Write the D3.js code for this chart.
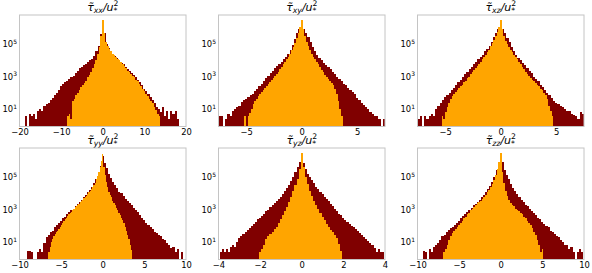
<!DOCTYPE html>
<html><head><meta charset="utf-8">
<script src="https://cdn.jsdelivr.net/npm/d3@7"></script>
<style>body{margin:0;background:#fff}svg{display:block}</style>
</head><body>
<script>
// ---------- data (log10 of bin counts; -1 = empty bin) ----------
const panelKeys = ["xx","xy","xz","yy","yz","zz"];
const xDomains = [[-20,20],[-7.5,7.5],[-7.5,7.5],[-10,10],[-4,4],[-10,10]];
const xTickValues = [[-20,-10,0,10,20],[-5,0,5],[-5,0,5],[-10,-5,0,5,10],[-4,-2,0,2,4],[-10,-5,0,5,10]];
const yTickExponents = [1,3,5];

const darkFirstCenter = [-18.5,-7.4,-7.4,-9,-3.9,-9.25];
const darkBinWidth    = [0.5,0.2,0.2,0.25,0.1,0.25];
const orangeFirstCenter = [-8.4,-5.1,-5.25,-6.45,-2.0,-6.8];
const orangeBinWidth    = [0.4,0.15,0.15,0.15,0.1,0.2];

const darkLog_xx = [0.5,-1,0.6,0.5,0.6,0.3,0.8,0.9,0.8,1.1,1.2,1.3,1.45,1.6,1.75,1.9,2.1,2.3,2.45,2.55,2.65,2.75,2.85,2.95,3.1,3.25,3.4,3.5,3.6,3.7,3.8,3.9,4.0,4.15,4.45,4.75,5.5,
 6.2,
 5.6,4.9,4.65,4.45,4.3,4.15,4.05,3.9,3.75,3.65,3.5,3.35,3.25,3.1,3.0,2.85,2.7,2.55,2.35,2.15,2.0,1.85,1.65,1.45,1.25,1.05,0.9,0.7,1.0,0.5,0.8,0.3,0.8,0.6,0.8,0.3];
const orangeLog_xx = [0.5,0.6,0.3,1.4,1.55,1.75,1.9,2.1,2.25,2.4,2.5,2.65,2.85,3.0,3.2,3.4,3.65,3.9,4.3,4.7,5.4,
 6.35,
 5.6,5.0,4.75,4.6,4.45,4.3,4.2,4.1,4.0,3.9,3.8,3.7,3.55,3.4,3.25,3.15,3.05,2.95,2.85,2.7,2.6,2.45,2.3,2.15,2.0,1.85,1.7,1.55,1.4,1.25,1.05,0.85,0.6,0.45];

const darkLog_xy = [0.45,0.45,-1,0.3,0.6,0.5,0.8,0.9,1.05,1.1,1.35,1.45,1.5,1.65,1.75,1.85,2.0,2.15,2.3,2.45,2.6,2.8,2.95,3.1,3.25,3.4,3.55,3.65,3.8,3.95,4.1,4.3,4.55,4.85,5.2,5.55,5.85,
 6.1,
 5.85,5.6,5.3,5.0,4.7,4.45,4.25,4.05,3.9,3.75,3.6,3.5,3.35,3.2,3.05,2.9,2.75,2.6,2.45,2.35,2.2,2.05,1.95,1.8,1.6,1.45,1.3,1.15,1.0,0.9,0.75,0.6,0.5,0.45,0.3,-1,0.3];
const orangeLog_xy = [0.45,-1,0.5,0.65,0.9,1.2,1.4,1.55,1.7,1.8,1.95,2.05,2.2,2.3,2.45,2.55,2.7,2.8,2.95,3.05,3.2,3.35,3.5,3.65,3.8,3.95,4.1,4.3,4.5,4.7,4.95,5.25,5.6,5.95,
 6.38,
 5.85,5.4,5.05,4.75,4.5,4.3,4.1,3.95,3.8,3.65,3.5,3.3,3.15,3.0,2.9,2.75,2.6,2.5,2.35,2.15,1.85,1.4,0.9,0.45];

const darkLog_xz = [0.3,0.45,-1,0.45,0.3,0.45,0.6,0.5,0.9,1.1,1.3,1.45,1.65,1.75,1.9,2.05,2.2,2.4,2.55,2.7,2.9,3.05,3.2,3.35,3.5,3.65,3.8,3.95,4.1,4.25,4.45,4.6,4.8,5.05,5.3,5.6,5.85,
 6.1,
 5.8,5.55,5.25,5.0,4.7,4.45,4.2,4.05,3.9,3.75,3.6,3.4,3.25,3.1,2.9,2.75,2.6,2.4,2.25,2.1,1.9,1.75,1.6,1.4,1.25,1.2,1.1,1.05,0.9,0.8,0.8,0.6,0.55,0.5,0.3,0.7,0.6];
const orangeLog_xz = [0.45,0.3,0.7,1.0,1.3,1.55,1.7,1.85,1.95,2.05,2.2,2.3,2.4,2.55,2.65,2.8,2.9,3.05,3.15,3.3,3.4,3.55,3.65,3.8,3.95,4.1,4.25,4.4,4.55,4.75,4.95,5.15,5.4,5.65,5.95,
 6.38,
 5.8,5.4,5.1,4.9,4.7,4.55,4.4,4.25,4.1,3.95,3.8,3.65,3.5,3.35,3.2,3.05,2.95,2.8,2.7,2.6,2.5,2.4,2.3,2.15,2.05,1.9,1.75,1.5,1.1,0.8,0.45];

const darkLog_yy = [0.35,0.35,0.3,-1,-1,0.3,0.5,0.3,0.85,1.2,1.35,1.5,1.6,1.8,1.95,2.05,2.2,2.35,2.45,2.6,2.75,2.85,2.95,3.1,3.25,3.35,3.5,3.65,3.8,3.95,4.1,4.3,4.5,4.75,5.1,5.6,
 6.2,
 5.75,5.45,5.1,4.85,4.6,4.4,4.2,4.0,3.9,3.75,3.55,3.45,3.3,3.15,3.0,2.85,2.75,2.55,2.4,2.25,2.1,1.95,1.85,1.7,1.55,1.45,1.35,1.25,1.1,1.0,0.85,0.7,0.55,0.6,0.3,0.45,-1,0.3];
const orangeLog_yy = [0.3,0.6,0.9,1.1,1.25,1.4,1.5,1.6,1.7,1.8,1.95,2.05,2.2,2.3,2.4,2.5,2.6,2.7,2.75,2.85,2.95,3.05,3.1,3.2,3.25,3.35,3.45,3.5,3.6,3.65,3.75,3.85,3.95,4.05,4.15,4.3,4.4,4.55,4.75,4.95,5.2,5.5,5.9,
 6.3,
 5.5,5.0,4.6,4.3,4.0,3.8,3.65,3.45,3.3,3.15,3.0,2.85,2.7,2.55,2.4,2.25,2.05,1.85,1.6,1.35,1.1,0.7,0.4];

const darkLog_yz = [0.3,0.45,0.3,0.45,0.3,0.6,0.7,0.6,0.9,1.15,1.25,1.4,1.55,1.65,1.75,1.9,2.0,2.15,2.3,2.4,2.5,2.65,2.8,2.9,3.05,3.15,3.3,3.4,3.55,3.7,3.85,4.05,4.2,4.4,4.65,4.9,5.2,5.5,5.8,
 6.15,
 5.75,5.4,5.1,4.9,4.7,4.5,4.3,4.15,4.0,3.85,3.7,3.55,3.4,3.25,3.1,2.95,2.8,2.65,2.55,2.4,2.25,2.15,2.0,1.9,1.8,1.7,1.6,1.45,1.35,1.2,1.1,0.95,0.85,0.7,0.55,0.3,0.45,0.3,0.3];
const orangeLog_yz = [0.3,0.5,0.7,1.1,1.3,1.4,1.55,1.7,1.85,2.05,2.3,2.55,2.8,3.05,3.35,3.7,4.05,4.4,4.8,5.4,
 6.4,
 5.5,4.9,4.45,4.05,3.75,3.45,3.15,2.95,2.7,2.45,2.25,2.0,1.85,1.65,1.5,1.35,1.15,0.8,0.35];

const darkLog_zz = [0.35,0.3,-1,0.5,0.3,0.6,0.7,0.85,1.0,1.25,1.35,1.5,1.65,1.75,1.85,1.95,2.1,2.2,2.35,2.5,2.6,2.75,2.85,3.0,3.15,3.25,3.35,3.5,3.65,3.8,3.95,4.15,4.35,4.6,4.9,5.3,5.7,
 6.2,
 5.8,5.35,5.05,4.75,4.45,4.25,4.05,3.85,3.7,3.5,3.35,3.2,3.1,2.95,2.8,2.7,2.55,2.4,2.3,2.15,2.0,1.9,1.8,1.6,1.5,1.4,1.3,1.2,1.05,0.9,0.75,0.7,0.5,0.6,0.3,-1,0.3,0.45,0.3];
const orangeLog_zz = [0.3,0.45,0.7,1.0,1.3,1.45,1.6,1.7,1.85,1.95,2.05,2.2,2.35,2.45,2.6,2.7,2.85,2.95,3.05,3.15,3.3,3.35,3.45,3.55,3.7,3.8,3.95,4.1,4.3,4.45,4.7,5.0,5.4,5.85,
 6.35,
 5.2,4.5,4.05,3.75,3.5,3.3,3.2,3.1,2.95,2.85,2.8,2.7,2.6,2.45,2.35,2.2,2.05,1.95,1.75,1.55,1.35,1.05,0.7,0.3,0.45];

const darkLogs = [darkLog_xx,darkLog_xy,darkLog_xz,darkLog_yy,darkLog_yz,darkLog_zz];
const orangeLogs = [orangeLog_xx,orangeLog_xy,orangeLog_xz,orangeLog_yy,orangeLog_yz,orangeLog_zz];

// ---------- layout ----------
const W = 592, H = 273;
const colLeft = [19.5, 218.5, 417.5], colW = 166.5;
const rowTop = [15, 148], rowH = 111.5;
const yDomain = [Math.pow(10,-0.17), Math.pow(10,6.68)];
const FONT = "DejaVu Sans";

const svg = d3.select("body").append("svg").attr("width", W).attr("height", H);

function bins(first, width, logs){
  return logs.map((L,i)=>({x0: first + i*width - width/2, x1: first + i*width + width/2, n: L < 0 ? 0 : Math.pow(10, L)}))
             .filter(d=>d.n>0);
}

panelKeys.forEach((key, i) => {
  const col = i % 3, row = Math.floor(i / 3);
  const g = svg.append("g").attr("transform", `translate(${colLeft[col]},${rowTop[row]})`);
  const x = d3.scaleLinear().domain(xDomains[i]).range([0, colW]);
  const y = d3.scaleLog().domain(yDomain).range([rowH, 0]);

  const clipId = "clip" + i;
  g.append("clipPath").attr("id", clipId).append("rect").attr("width", colW).attr("height", rowH);
  const plot = g.append("g").attr("clip-path", `url(#${clipId})`);

  const drawBars = (data, color) => {
    plot.append("g").selectAll("rect").data(data).join("rect")
      .attr("x", d => x(d.x0))
      .attr("width", d => Math.max(0, x(d.x1) - x(d.x0)))
      .attr("y", d => y(d.n))
      .attr("height", d => rowH - y(d.n))
      .attr("fill", color)
      .attr("shape-rendering", "crispEdges");
  };
  drawBars(bins(darkFirstCenter[i], darkBinWidth[i], darkLogs[i]), "#800000");
  drawBars(bins(orangeFirstCenter[i], orangeBinWidth[i], orangeLogs[i]), "#ffa500");

  // frame
  g.append("rect").attr("width", colW).attr("height", rowH)
    .attr("fill", "none").attr("stroke", "#c4c4c4").attr("stroke-width", 1);

  // x axis
  const xa = g.append("g").attr("transform", `translate(0,${rowH})`)
    .call(d3.axisBottom(x).tickValues(xTickValues[i]).tickSize(0).tickPadding(2.5)
      .tickFormat(v => (v < 0 ? "\u2212" + Math.abs(v) : String(v))));
  xa.select(".domain").remove();
  xa.selectAll("text").attr("font-family", FONT).attr("font-size", 8.4).attr("fill", "#000");

  // y axis
  const ya = g.append("g")
    .call(d3.axisLeft(y).tickValues(yTickExponents.map(e => Math.pow(10, e))).tickSize(0).tickPadding(2.5)
      .tickFormat(() => ""));
  ya.select(".domain").remove();
  ya.selectAll(".tick text").each(function(v){
    const t = d3.select(this).attr("font-family", FONT).attr("font-size", 8.4).attr("fill", "#000").attr("dy", "0.5em");
    t.text(null);
    t.append("tspan").text("10");
    t.append("tspan").attr("font-size", 6).attr("dy", "-3.5").text(String(Math.round(Math.log10(v))));
  });

  // title  τ̃_{ab}/u_*^2
  const title = svg.append("text")
    .attr("x", colLeft[col] + colW / 2).attr("y", rowTop[row] - 4.5)
    .attr("text-anchor", "middle").attr("font-family", FONT).attr("font-size", 11)
    .attr("font-style", "italic").attr("fill", "#000");
  title.append("tspan").text("\u03C4\u0303");
  title.append("tspan").attr("font-size", 7.7).attr("dy", 2.2).text(key);
  title.append("tspan").attr("dy", -2.2).text("/u");
  title.append("tspan").attr("font-size", 7.7).attr("font-style", "normal").attr("dy", 2.6).text("*");
  title.append("tspan").attr("font-size", 7.7).attr("font-style", "normal").attr("dx", -4).attr("dy", -7).text("2");
});
</script>
</body></html>
